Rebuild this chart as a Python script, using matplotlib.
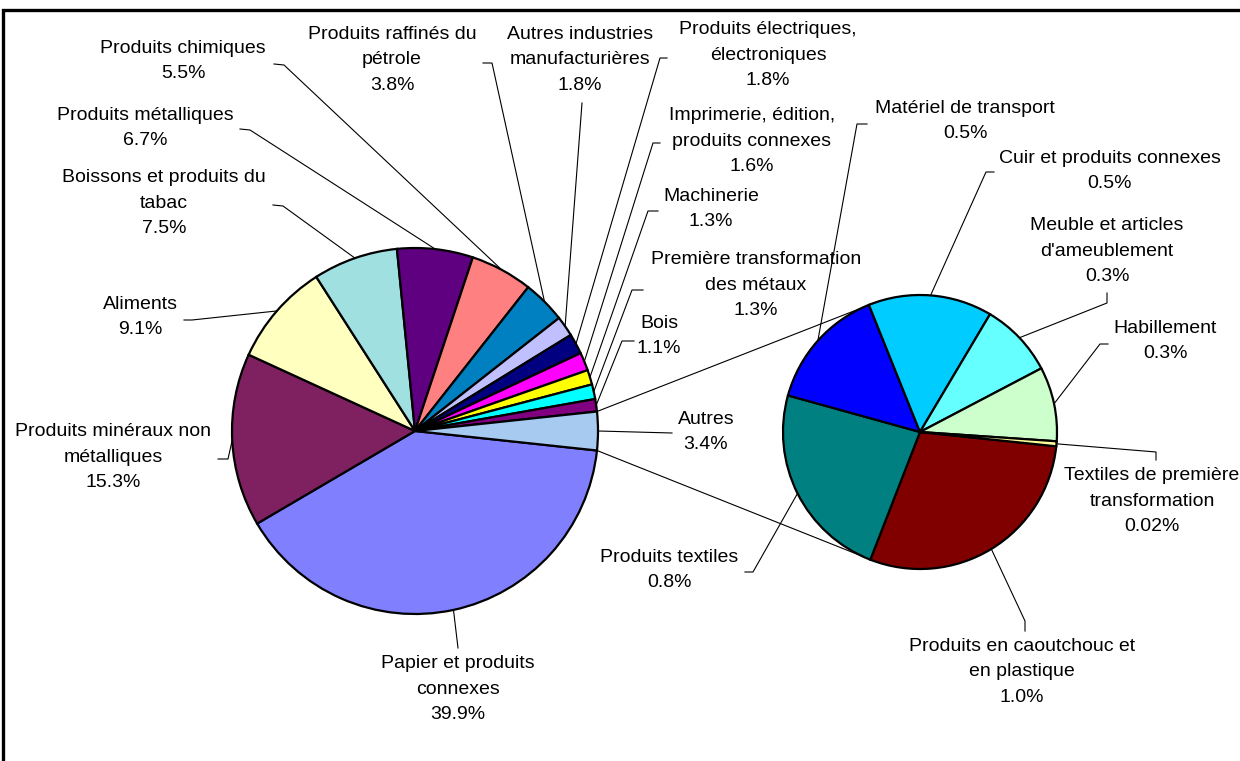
import numpy as np
import matplotlib.pyplot as plt
from matplotlib.patches import Rectangle

W, H = 1240, 761

# main pie, clockwise from the split slice
main_names = ["Papier et produits\nconnexes",
              "Produits minéraux non\nmétalliques",
              "Aliments",
              "Boissons et produits du\ntabac",
              "Produits métalliques",
              "Produits chimiques",
              "Produits raffinés du\npétrole",
              "Autres industries\nmanufacturières",
              "Produits électriques,\nélectroniques",
              "Imprimerie, édition,\nproduits connexes",
              "Machinerie",
              "Première transformation\ndes métaux",
              "Bois"]
main_values = [39.9, 15.3, 9.1, 7.5, 6.7, 5.5, 3.8, 1.8, 1.8, 1.6, 1.3, 1.3, 1.1]
main_colors = ["#8080FF", "#7F2060", "#FFFFC0", "#A0E0E0", "#5F0080", "#FF8080",
               "#0080C0", "#C0C0FF", "#000080", "#FF00FF", "#FFFF00", "#00FFFF",
               "#800080"]

other_name = "Autres"
other_value = 3.4
other_color = "#A6CAF0"

# breakdown of "Autres", clockwise
sub_names = ["Produits en caoutchouc et\nen plastique",
             "Produits textiles",
             "Matériel de transport",
             "Cuir et produits connexes",
             "Meuble et articles\nd'ameublement",
             "Habillement",
             "Textiles de première\ntransformation"]
sub_values = [1.0, 0.8, 0.5, 0.5, 0.3, 0.3, 0.02]
sub_colors = ["#800000", "#008080", "#0000FF", "#00CCFF", "#66FFFF", "#CCFFCC",
              "#FFFF99"]

# layout in pixel coords (y down): text centre, elbow, tick end
main_layout = [
    ((458, 689), (458, 648), None),
    ((113, 457), (228, 459), (218, 459)),
    ((140, 317), (192, 320), (184, 320)),
    ((164, 203), (283, 206), (273, 205)),
    ((145, 128), (250, 130), (240, 129)),
    ((183, 61), (284, 65), (274, 64)),
    ((392, 60), (492, 63), (483, 63)),
    ((580, 60), (582, 103), None),
    ((768, 55), (660, 58), (667, 58)),
    ((752, 141), (653, 143), (660, 143)),
    ((711, 209), (648, 211), (658, 211)),
    ((756, 285), (632, 290), (643, 290)),
    ((659, 336), (622, 341), (634, 341)),
]
other_layout = ((706, 432), (672, 433), None)
sub_layout = [
    ((1022, 672), (1025, 621), (1025, 631)),
    ((669, 570), (753, 572), (745, 572)),
    ((965, 121), (857, 124), (867, 124)),
    ((1110, 171), (986, 172), (994, 172)),
    ((1107, 251), (1107, 303), (1107, 293)),
    ((1165, 341), (1100, 344), (1108, 344)),
    ((1152, 501), (1156, 452), (1156, 460)),
]

main_c, main_r = (415, 431), 183
sub_c, sub_r = (920, 432), 137


def P(x, y):
    return (x, H - y)


def pct(v):
    return f"{v:.2f}%" if v < 0.1 else f"{v:.1f}%"


fig = plt.figure(figsize=(W / 100, H / 100), dpi=100)
ax = fig.add_axes([0, 0, 1, 1])

edge = dict(edgecolor="black", linewidth=1.6)
vals = main_values + [other_value]
half = other_value / sum(vals) * 180
w_main, _ = ax.pie(vals, colors=main_colors + [other_color], center=P(*main_c),
                   radius=main_r, startangle=-half, counterclock=False,
                   wedgeprops=edge, frame=True)
w_sub, _ = ax.pie(sub_values, colors=sub_colors, center=P(*sub_c), radius=sub_r,
                  startangle=-6, counterclock=False, wedgeprops=edge, frame=True)


def rim(c, r, ang):
    cx, cy = P(*c)
    a = np.radians(ang)
    return cx + r * np.cos(a), cy + r * np.sin(a)


def label(wedge, c, r, text, lay):
    (tx, ty), (ex, ey), tick = lay
    mid = (wedge.theta1 + wedge.theta2) / 2
    x0, y0 = rim(c, r, mid)
    xs, ys = [x0, ex], [y0, H - ey]
    if tick is not None:
        xs.append(tick[0])
        ys.append(H - tick[1])
    ax.plot(xs, ys, color="black", lw=0.8)
    ax.text(tx, H - ty, text, ha="center", va="center", fontsize=14,
            family="Liberation Sans", linespacing=1.62)


for w, name, v, lay in zip(w_main, main_names, main_values, main_layout):
    label(w, main_c, main_r, f"{name}\n{pct(v)}", lay)
label(w_main[-1], main_c, main_r, f"{other_name}\n{pct(other_value)}", other_layout)
for w, name, v, lay in zip(w_sub, sub_names, sub_values, sub_layout):
    label(w, sub_c, sub_r, f"{name}\n{pct(v)}", lay)

# lines joining the split slice to the second pie
wo = w_main[-1]
for a_main, a_sub in ((max(wo.theta1, wo.theta2), 108), (min(wo.theta1, wo.theta2), 245)):
    p0 = rim(main_c, main_r, a_main)
    p1 = rim(sub_c, sub_r, a_sub)
    ax.plot([p0[0], p1[0]], [p0[1], p1[1]], color="black", lw=0.8)

ax.add_patch(Rectangle(P(3, H + 20), W + 20, H + 10, fill=False,
                       edgecolor="black", lw=2.4, clip_on=False))

ax.set_xlim(0, W)
ax.set_ylim(0, H)
ax.set_aspect("auto")
ax.axis("off")
fig.savefig("out.png", dpi=100)
